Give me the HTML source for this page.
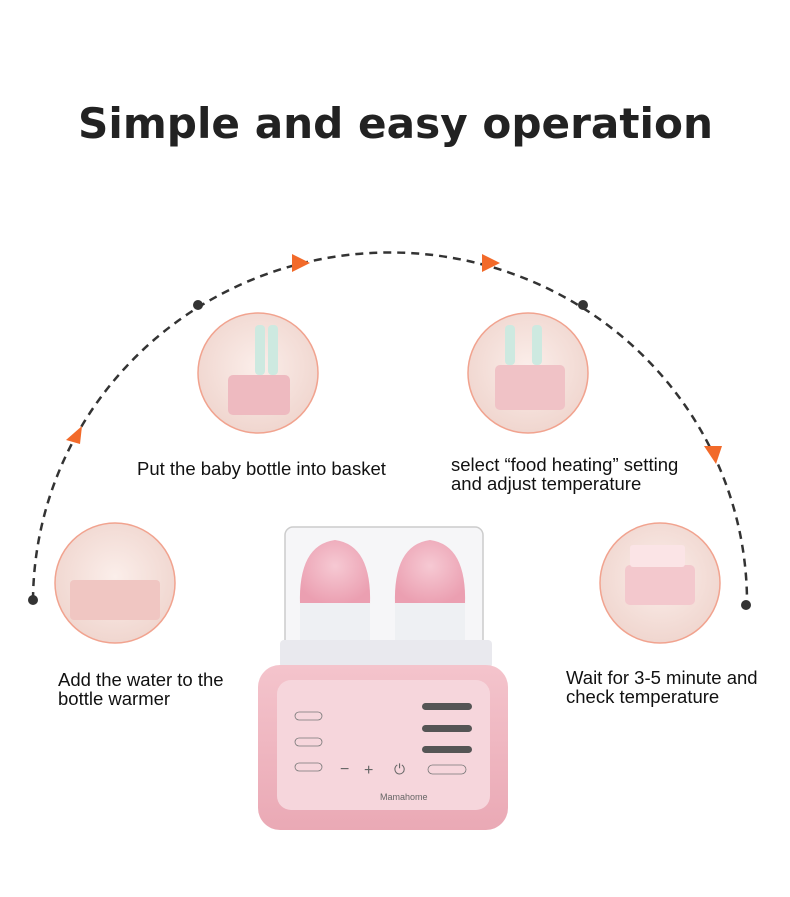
<!DOCTYPE html>
<html><head><meta charset="utf-8"><style>
html,body{margin:0;padding:0;background:#fff;}
body{width:790px;height:897px;position:relative;overflow:hidden;font-family:"Liberation Sans",sans-serif;}
.t{position:absolute;font-size:18.5px;color:#111;line-height:19px;}
</style></head><body>
<svg width="790" height="897" style="position:absolute;left:0;top:0">
<defs>
<radialGradient id="cg" cx="50%" cy="45%" r="55%"><stop offset="0" stop-color="#fbeeea"/><stop offset="1" stop-color="#f0d6cf"/></radialGradient>
<linearGradient id="body" x1="0" y1="0" x2="0" y2="1"><stop offset="0" stop-color="#f4c4cc"/><stop offset="1" stop-color="#eaa9b5"/></linearGradient>
<radialGradient id="bot" cx="50%" cy="40%" r="60%"><stop offset="0" stop-color="#f6c9d3"/><stop offset="1" stop-color="#eb9fb1"/></radialGradient>
</defs>
<text x="78" y="138" font-family="DejaVu Sans" font-weight="bold" font-size="42" fill="#222" textLength="635" lengthAdjust="spacingAndGlyphs">Simple and easy operation</text>
<path d="M33,600 A357,350 0 0 1 747,605" fill="none" stroke="#333" stroke-width="2.5" stroke-dasharray="8,6"/>
<circle cx="33" cy="600" r="5" fill="#333"/>
<circle cx="198" cy="305" r="5" fill="#333"/>
<circle cx="583" cy="305" r="5" fill="#333"/>
<circle cx="746" cy="605" r="5" fill="#333"/>
<polygon points="66,440 82,426 80,444" fill="#f26a2a"/>
<polygon points="292,254 310,263 292,272" fill="#f26a2a"/>
<polygon points="482,254 500,263 482,272" fill="#f26a2a"/>
<polygon points="704,446 722,446 716,464" fill="#f26a2a"/>
<g stroke="#f1a38f" stroke-width="1.5" fill="url(#cg)">
<circle cx="258" cy="373" r="60"/><circle cx="528" cy="373" r="60"/>
<circle cx="115" cy="583" r="60"/><circle cx="660" cy="583" r="60"/>
</g>
<rect x="228" y="375" width="62" height="40" rx="5" fill="#eebac0"/>
<rect x="255" y="325" width="10" height="50" rx="4" fill="#cde9e0"/><rect x="268" y="325" width="10" height="50" rx="4" fill="#cde9e0"/>
<rect x="495" y="365" width="70" height="45" rx="5" fill="#f0c2c6"/>
<rect x="505" y="325" width="10" height="40" rx="4" fill="#cde9e0"/><rect x="532" y="325" width="10" height="40" rx="4" fill="#cde9e0"/>
<rect x="70" y="580" width="90" height="40" rx="4" fill="#f0c6c2"/>
<rect x="625" y="565" width="70" height="40" rx="5" fill="#f3c8cd"/>
<rect x="630" y="545" width="55" height="22" rx="3" fill="#fbe4e6"/>
<rect x="285" y="527" width="198" height="135" rx="8" fill="#f6f6f8" stroke="#ccc" stroke-width="1.5"/>
<path d="M300,605 Q298,545 335,540 Q372,545 370,605 Z" fill="url(#bot)"/>
<path d="M395,605 Q393,545 430,540 Q467,545 465,605 Z" fill="url(#bot)"/>
<rect x="300" y="603" width="70" height="45" fill="#eef0f3"/><rect x="395" y="603" width="70" height="45" fill="#eef0f3"/>
<rect x="280" y="640" width="212" height="28" rx="4" fill="#e9e9ee"/>
<rect x="258" y="665" width="250" height="165" rx="22" fill="url(#body)"/>
<rect x="277" y="680" width="213" height="130" rx="14" fill="#f6d6dc"/>
<g>
<rect x="295" y="712" width="27" height="8" rx="4" fill="none" stroke="#777" stroke-width=".8"/>
<rect x="295" y="738" width="27" height="8" rx="4" fill="none" stroke="#777" stroke-width=".8"/>
<rect x="295" y="763" width="27" height="8" rx="4" fill="none" stroke="#777" stroke-width=".8"/>
<rect x="422" y="703" width="50" height="7" rx="3.5" fill="#555"/>
<rect x="422" y="725" width="50" height="7" rx="3.5" fill="#555"/>
<rect x="422" y="746" width="50" height="7" rx="3.5" fill="#555"/>
<rect x="428" y="765" width="38" height="9" rx="4.5" fill="none" stroke="#777" stroke-width=".8"/>
</g>
<text x="340" y="774" font-size="16" fill="#666">−</text>
<text x="364" y="775" font-size="16" fill="#666">+</text>
<text x="394" y="774" font-size="14" fill="#666">⏻</text>
<text x="380" y="800" font-size="9" fill="#666">Mamahome</text>
</svg>
<div class="t" style="left:137px;top:459px">Put the baby bottle into basket</div>
<div class="t" style="left:451px;top:455px">select “food heating” setting<br>and adjust temperature</div>
<div class="t" style="left:58px;top:670px">Add the water to the<br>bottle warmer</div>
<div class="t" style="left:566px;top:668px">Wait for 3-5 minute and<br>check temperature</div>
</body></html>
